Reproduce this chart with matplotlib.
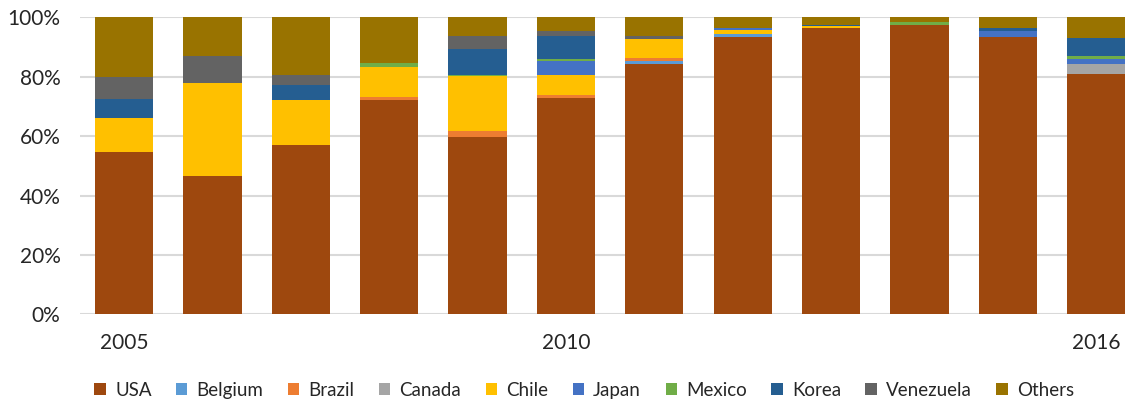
import numpy as np
import matplotlib
matplotlib.use("Agg")
import matplotlib.pyplot as plt

plt.rcParams['font.family'] = ['Lato', 'DejaVu Sans']

years = ['2005', '', '', '', '', '2010', '', '', '', '', '', '2016']

# share of each country, percent
usa       = [54.8, 46.5, 56.9, 72.2, 59.9, 72.8, 84.3, 93.5, 96.4, 97.3, 93.5, 80.9]
belgium   = [0.0, 0.0, 0.0, 0.0, 0.0, 0.0, 1.1, 0.8, 0.0, 0.0, 0.0, 0.0]
brazil    = [0.0, 0.0, 0.0, 1.1, 1.7, 1.1, 0.8, 0.0, 0.0, 0.0, 0.0, 0.0]
canada    = [0.0, 0.0, 0.0, 0.0, 0.0, 0.0, 0.0, 0.0, 0.0, 0.0, 0.0, 3.4]
chile     = [11.2, 31.3, 15.4, 9.9, 18.8, 6.7, 6.5, 1.4, 0.6, 0.0, 0.0, 0.0]
japan     = [0.0, 0.0, 0.0, 0.0, 0.0, 4.8, 0.0, 0.8, 0.0, 0.0, 1.9, 1.7]
mexico    = [0.0, 0.0, 0.0, 1.6, 0.3, 0.5, 0.0, 0.0, 0.0, 1.0, 0.0, 1.0]
korea     = [6.5, 0.0, 4.8, 0.0, 8.7, 7.9, 0.0, 0.0, 0.4, 0.0, 1.1, 6.1]
venezuela = [7.4, 9.2, 3.5, 0.0, 4.2, 1.6, 1.1, 0.0, 0.0, 0.0, 0.0, 0.0]
others    = [20.1, 13.0, 19.4, 15.2, 6.4, 4.6, 6.2, 3.5, 2.6, 1.7, 3.5, 6.9]

names = ['USA', 'Belgium', 'Brazil', 'Canada', 'Chile', 'Japan', 'Mexico', 'Korea', 'Venezuela', 'Others']
series = [usa, belgium, brazil, canada, chile, japan, mexico, korea, venezuela, others]
colors = ['#9E480E', '#5B9BD5', '#ED7D31', '#A5A5A5', '#FFC000', '#4472C4',
          '#70AD47', '#255E91', '#636363', '#997300']

fig = plt.figure(figsize=(11.3, 4.05), dpi=100)
ax = fig.add_axes([0.0708, 0.2235, 0.925, 0.7335])

x = np.arange(len(years))
bottom = np.zeros(len(years))
for name, vals, c in zip(names, series, colors):
    vals = np.array(vals) / 100.0
    ax.bar(x, vals, 0.66, bottom=bottom, color=c, label=name, zorder=3)
    bottom += vals

ax.set_ylim(0, 1)
ax.set_xlim(-0.5, 11.33)
ax.set_yticks([0, 0.2, 0.4, 0.6, 0.8, 1.0])
ax.set_yticklabels(['0%', '20%', '40%', '60%', '80%', '100%'])
ax.set_xticks(x)
ax.set_xticklabels(years)
ax.tick_params(axis='y', length=0, pad=14, labelsize=15, colors='#262626')
ax.tick_params(axis='x', length=0, pad=13, labelsize=15, colors='#262626')
ax.grid(axis='y', color='#D9D9D9', linewidth=1.5, zorder=0)
for s in ax.spines.values():
    s.set_visible(False)

leg = fig.legend(loc='center', bbox_to_anchor=(0.517, 0.037), ncol=10, frameon=False,
                 fontsize=13.5, handlelength=0.6, handleheight=0.6, handletextpad=0.5,
                 columnspacing=1.3)
for t in leg.get_texts():
    t.set_color('#262626')

fig.savefig('out.png', dpi=100)
